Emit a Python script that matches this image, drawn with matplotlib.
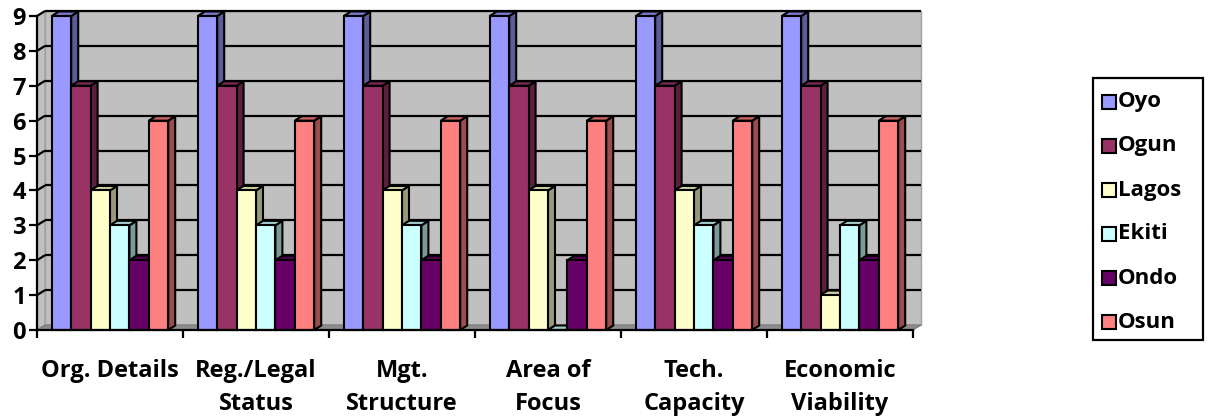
import matplotlib
matplotlib.use("Agg")
import matplotlib.pyplot as plt
from matplotlib.patches import Rectangle, Polygon
import numpy as np

categories = ["Org. Details", "Reg./Legal\nStatus", "Mgt.\nStructure",
              "Area of\nFocus", "Tech.\nCapacity", "Economic\nViability"]
series_names = ["Oyo", "Ogun", "Lagos", "Ekiti", "Ondo", "Osun"]
oyo = [9, 9, 9, 9, 9, 9]
ogun = [7, 7, 7, 7, 7, 7]
lagos = [4, 4, 4, 4, 4, 1]
ekiti = [3, 3, 3, 0, 3, 3]
ondo = [2, 2, 2, 2, 2, 2]
osun = [6, 6, 6, 6, 6, 6]
series_values = [oyo, ogun, lagos, ekiti, ondo, osun]
colors = ["#9999FF", "#993366", "#FFFFCC", "#CCFFFF", "#660066", "#FF8080"]

FONT = "Open Sans"
W, H, DPI = 12.09, 4.17, 100
fig = plt.figure(figsize=(W, H), dpi=DPI)

left_px, right_px = 37, 913
bottom_px, top_px = 330, 16
ax = fig.add_axes([left_px / 1209, 1 - bottom_px / 417,
                   (right_px - left_px) / 1209, (bottom_px - top_px) / 417])
xmin, xmax = -0.5, len(categories) - 0.5
ymin, ymax = 0, 9
ax.set_xlim(xmin, xmax)
ax.set_ylim(ymin, ymax)
ax.patch.set_visible(False)

px_x = (xmax - xmin) / (right_px - left_px)
px_y = (ymax - ymin) / (bottom_px - top_px)

wdx, wdy = 8 * px_x, 5 * px_y
bdx, bdy = 7 * px_x, 4.5 * px_y

ax.add_patch(Rectangle((xmin + wdx, ymin + wdy), xmax - xmin, ymax - ymin,
                       facecolor="#C0C0C0", edgecolor="#A0A0A0", lw=1.0,
                       zorder=0, clip_on=False))
ax.add_patch(Polygon([(xmin, ymin), (xmin + wdx, ymin + wdy),
                      (xmin + wdx, ymax + wdy), (xmin, ymax)],
                     closed=True, facecolor="#C0C0C0", edgecolor="#A0A0A0",
                     lw=1.0, zorder=0.1, clip_on=False))
ax.add_patch(Polygon([(xmin, ymin), (xmax, ymin), (xmax + wdx, ymin + wdy),
                      (xmin + wdx, ymin + wdy)],
                     closed=True, facecolor="#8C8C8C", edgecolor="#808080",
                     lw=1.0, zorder=0.2, clip_on=False))
for yv in range(1, 10):
    ax.plot([xmin + wdx, xmax + wdx], [yv + wdy, yv + wdy], color="black",
            lw=1.6, zorder=0.3, clip_on=False, solid_capstyle="butt")
    ax.plot([xmin, xmin + wdx], [yv, yv + wdy], color="black",
            lw=1.6, zorder=0.3, clip_on=False, solid_capstyle="butt")


def shade(hexcol, f):
    c = np.array(matplotlib.colors.to_rgb(hexcol))
    return tuple(c * f)


n = len(series_names)
bw = 19.4 * px_x
group_w = n * bw
z = 1.0
for ci in range(len(categories)):
    x_start = ci - group_w / 2
    for si in range(n):
        v = series_values[si][ci]
        x0 = x_start + si * bw
        x1 = x0 + bw
        col = colors[si]
        ax.add_patch(Polygon([(x1, 0), (x1 + bdx, bdy), (x1 + bdx, v + bdy), (x1, v)],
                             closed=True, facecolor=shade(col, 0.6),
                             edgecolor="black", lw=1.5, zorder=z,
                             clip_on=False, joinstyle="miter"))
        ax.add_patch(Polygon([(x0, v), (x1, v), (x1 + bdx, v + bdy), (x0 + bdx, v + bdy)],
                             closed=True, facecolor=shade(col, 0.8),
                             edgecolor="black", lw=1.5, zorder=z + 0.01,
                             clip_on=False, joinstyle="miter"))
        ax.add_patch(Rectangle((x0, 0), bw, v, facecolor=col,
                               edgecolor="black", lw=1.5, zorder=z + 0.02,
                               clip_on=False, joinstyle="miter"))
        z += 0.1

for s in ["top", "right"]:
    ax.spines[s].set_visible(False)
ax.spines["left"].set_linewidth(1.6)
ax.spines["bottom"].set_linewidth(1.6)
ax.spines["left"].set_zorder(50)
ax.spines["bottom"].set_zorder(50)
ax.set_yticks(range(0, 10))
ax.set_yticklabels([str(i) for i in range(0, 10)], fontfamily=FONT,
                   fontweight="bold", fontsize=17)
ax.tick_params(axis="y", direction="out", length=6, width=1.6, pad=2)
ax.set_xticks(np.arange(xmin, xmax + 0.01, 1.0))
ax.set_xticklabels([])
ax.tick_params(axis="x", direction="out", length=6, width=1.6)
for ci, lab in enumerate(categories):
    ax.text(ci, -0.82, lab, ha="center", va="top", fontfamily=FONT,
            fontweight="bold", fontsize=17, linespacing=1.5,
            transform=ax.transData, clip_on=False)

lx0, lx1 = 1093 / 1209, 1203 / 1209
ly_top, ly_bot = 1 - 78 / 417, 1 - 340 / 417
fig.patches.append(Rectangle((lx0, ly_bot), lx1 - lx0, ly_top - ly_bot,
                             transform=fig.transFigure, facecolor="white",
                             edgecolor="black", lw=1.6))
entry_y = [102, 146, 190, 234, 278, 322]
sq = 14
for name, col, yp in zip(series_names, colors, entry_y):
    fig.patches.append(Rectangle(((1102) / 1209, 1 - (yp + sq / 2) / 417),
                                 sq / 1209, sq / 417, transform=fig.transFigure,
                                 facecolor=col, edgecolor="black", lw=1.5))
    fig.text(1118 / 1209, 1 - yp / 417, name, ha="left", va="center",
             fontfamily=FONT, fontweight="bold", fontsize=16)

fig.savefig("out.png", dpi=DPI)
